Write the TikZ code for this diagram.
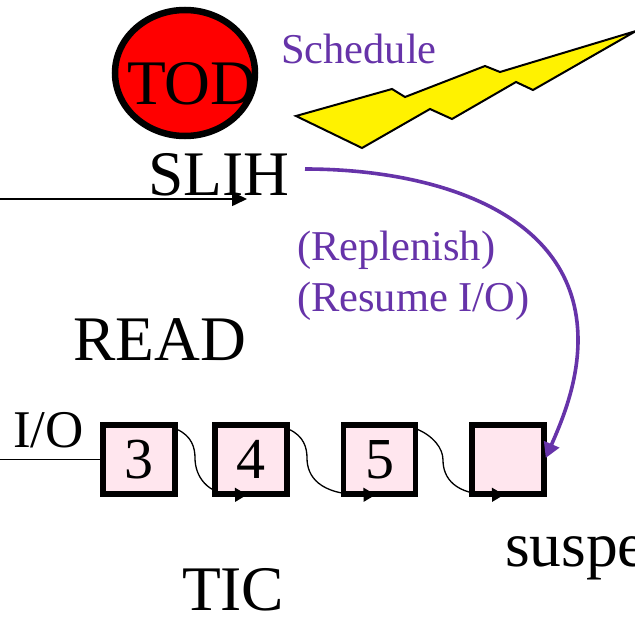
\documentclass[tikz,border=0pt]{standalone}
\usepackage{fontspec}
\setmainfont{Liberation Serif}
\usetikzlibrary{arrows.meta,shapes.geometric}
\definecolor{vio}{HTML}{6633A9}
\definecolor{boxpink}{HTML}{FFE6EE}
\tikzset{
  px/.style={x=1pt,y=-1pt},
  big/.style={anchor=base west,inner sep=0pt,outer sep=0pt,font=\fontsize{63.5}{64}\selectfont},
  mid/.style={anchor=base west,inner sep=0pt,outer sep=0pt,font=\fontsize{53}{53}\selectfont},
  vlabel/.style={anchor=base west,inner sep=0pt,outer sep=0pt,text=vio,font=\fontsize{42.5}{43}\selectfont},
  cell/.style={draw=black,line width=5.5pt,fill=boxpink,minimum width=72pt,minimum height=69pt,inner sep=0pt,font=\fontsize{58}{58}\selectfont},
  link/.style={draw=black,line width=1.3pt,-{Triangle[length=12pt,width=14pt]}},
  feed/.style={draw=black,line width=1.6pt},
  vcurve/.style={draw=vio,line width=3.6pt,-{Triangle[length=15pt,width=16pt]}},
}
\begin{document}
\begin{tikzpicture}[px]
\useasboundingbox (0,0) rectangle (635,621);
\clip (0,0) rectangle (635,621);
\path[fill=white] (0,0) rectangle (635,621);
% clock
\node[draw=black,line width=6.5pt,fill=red,ellipse,minimum width=140pt,minimum height=126pt,inner sep=0pt,outer sep=0pt] (clock) at (185,73) {};
\node[big] (tod) at (127,104) {TOD};
\node[vlabel] (sched) at (281,63) {Schedule};
% bolt
\draw[fill=yellow,draw=black,line width=2pt,line join=miter]
 (296,116)--(392,89)--(405,97)--(485,66)--(500,72)--(636,31)--(533,90)--(516,82)--(452,119)--(430,109)--(362,148)--cycle;
\node[big] (slih) at (148,195) {SLIH};
\coordinate (inL) at (0,199);
\coordinate (inR) at (247,199);
\draw[feed,-{Triangle[length=15pt,width=14pt]}] (inL) -- (inR);
\node[vlabel] (rep) at (297,260) {(Replenish)};
\node[vlabel] (res) at (297,311) {(Resume I/O)};
\node[big] (read) at (73,360) {READ};
\node[mid] (io) at (13,447) {I/O};
\node[cell] (b1) at (139,459.5) {3};
\node[cell] (b2) at (251,459.5) {4};
\node[cell] (b3) at (379.5,459.5) {5};
\node[cell] (b4) at (508,459.5) {};
\coordinate (ioL) at (0,459.5);
\draw[feed] (ioL) -- (b1.west);
\draw[link] ([shift={(-1,7)}]b1.north east) .. controls (192,436) and (195,448) .. (195,458)
  .. controls (195,476) and (207,495) .. ([shift={(-4,-2)}]b2.south);
\draw[link] ([shift={(-1,7)}]b2.north east) .. controls (304,436) and (307,448) .. (307,458)
  .. controls (307,476) and (319,495) .. ([shift={(-4,-2)}]b3.south);
\draw[link] ([shift={(-1,7)}]b3.north east) .. controls (433,436) and (443,448) .. (443,460)
  .. controls (443,478) and (455,495) .. ([shift={(-4,-2)}]b4.south);
\coordinate (vs) at (305,169);
\draw[vcurve] (vs) .. controls (430,169) and (578,210) .. (578,340) .. controls (578,385) and (560,425) .. ([shift={(-1,-1.5)}]b4.east);
\node[big] (susp) at (505,566) {suspe};
\node[big] (tic) at (182,610) {TIC};
\end{tikzpicture}
\end{document}
